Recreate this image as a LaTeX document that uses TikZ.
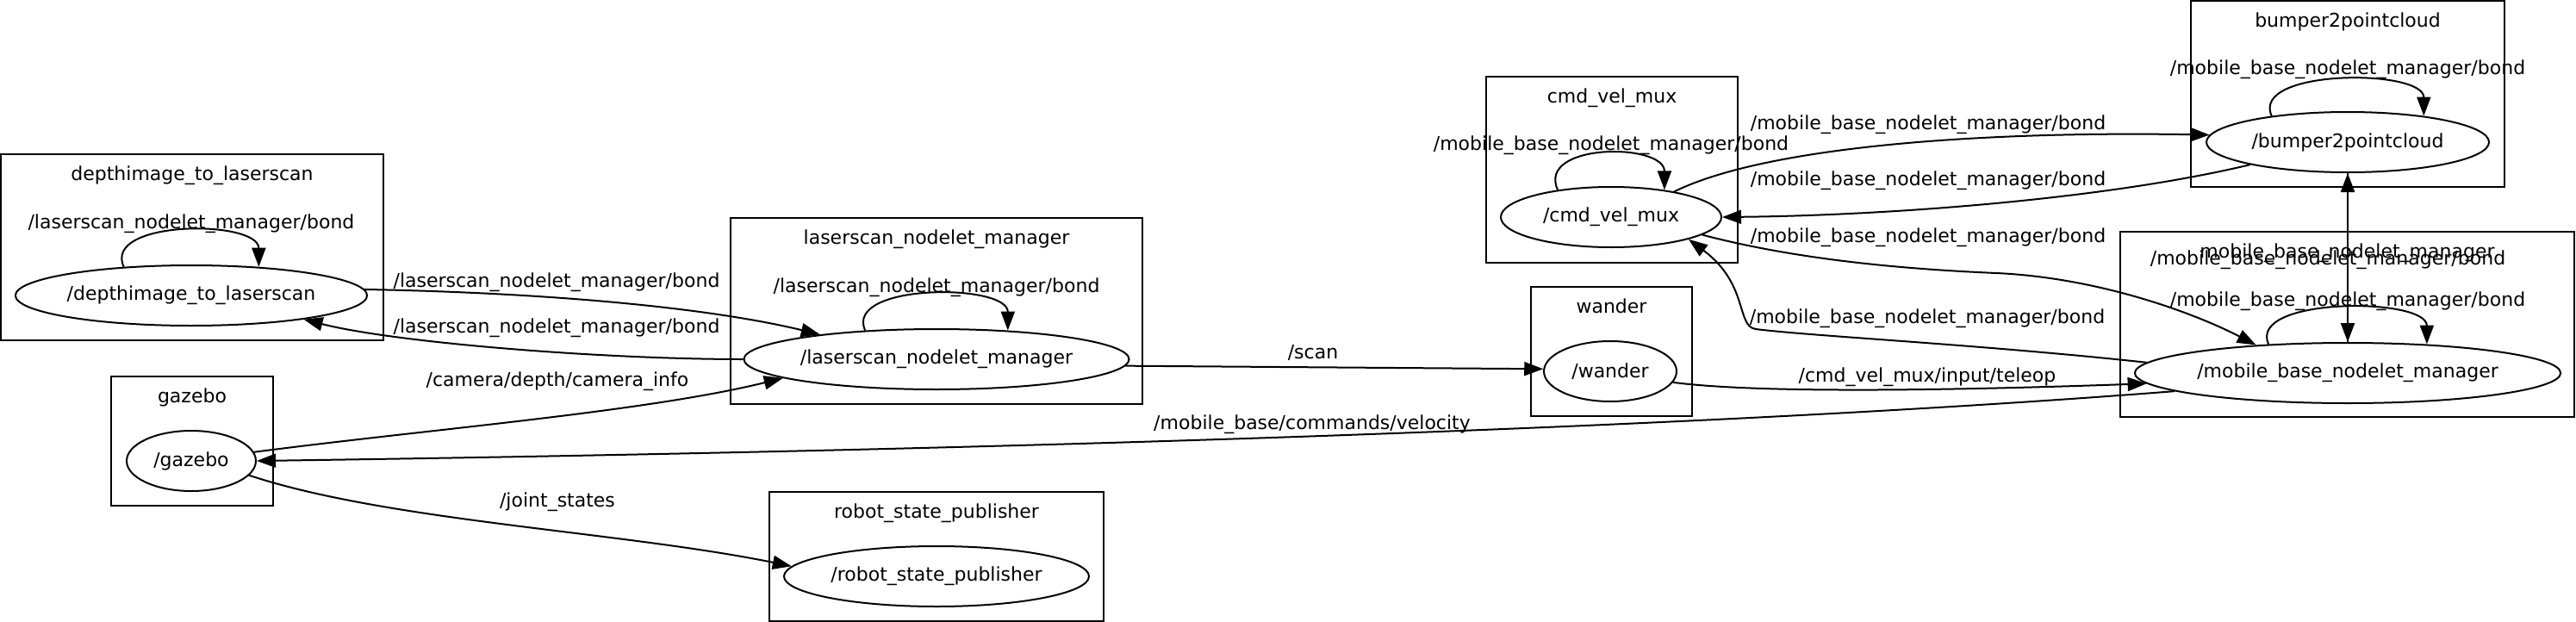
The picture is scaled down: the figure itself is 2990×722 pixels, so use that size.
\documentclass[tikz,border=0pt]{standalone}
\usepackage{fontspec}
\setmainfont{DejaVu Sans}
\usetikzlibrary{arrows.meta,shapes.geometric}
\newcommand\lsbond{/laserscan\_nodelet\_manager/bond}
\newcommand\mbbond{/mobile\_base\_nodelet\_manager/bond}
\tikzset{
  cluster/.style={draw, line width=1.1pt, inner sep=0pt},
  rosnode/.style={draw, ellipse, line width=1pt, inner sep=0pt, minimum height=35pt},
  topic/.style={inner sep=0pt, anchor=base},
  edge/.style={line width=1pt, -{Triangle[length=11pt,width=8pt]}},
}
\begin{document}
\begin{tikzpicture}[x=0.5pt, y=-0.5pt, font=\fontsize{11}{13}\selectfont]
\useasboundingbox (0,0) rectangle (2990,722);
\foreach \id/\cx/\cy/\rx/\bx/\by/\bw/\bh/\ttl in {
  depth/222/343/204/223/287/222/108/depthimage\_to\_laserscan,
  laser/1087/417/221/1087/361/239/108/laserscan\_nodelet\_manager,
  gazebo/222/535/75/223/512/94/75/gazebo,
  rsp/1087/669/177/1087/646/194/75/robot\_state\_publisher,
  wander/1869/431/77/1870.5/408/93.5/75/wander,
  cmd/1870/252/128/1871/197/146/108/cmd\_vel\_mux,
  bumper/2725/165/164/2725/109/182/108/bumper2pointcloud,
  mobile/2725/433/246/2724.5/376.5/263.5/107.5/mobile\_base\_nodelet\_manager}
{
  \node[cluster, minimum width=\bw pt, minimum height=\bh pt] (\id box) at (\bx,\by) {};
  \node[topic] (\id title) at ([yshift=-16pt]\id box.north) {\ttl};
  \node[rosnode, minimum width=\rx pt] (\id) at (\cx,\cy) {/\ttl};
}
\foreach \id/\a/\b/\mgr in {depth/157/23/laserscan, laser/158/22/laserscan,
  cmd/153/27/mobile\_base, bumper/161/19/mobile\_base, mobile/160/20/mobile\_base}
{
  \draw[edge] (\id.\a) .. controls +(-25,-55) and +(0,-55) .. (\id.\b);
  \node[topic] (\id loop) at ([yshift=39pt]\id.center) {/\mgr\_nodelet\_manager/bond};
}
\draw[edge] (depth.2) .. controls (600,339) and (805,353) .. (laser.168);
\node[topic] (t depth laser) at (646,333) {\lsbond};
\draw[edge] (laser.180) .. controls (700,417) and (460,398) .. (depth.-12);
\node[topic] (t laser depth) at (646,386) {\lsbond};
\draw[edge] (gazebo.8) .. controls (500,498) and (750,478) .. (laser.187);
\node[topic] (t camera) at (647,448) {/camera/depth/camera\_info};
\draw[edge] (gazebo.-14) .. controls (450,605) and (721,617) .. (rsp.176);
\node[topic] (t joints) at (647,588) {/joint\_states};
\draw[edge] (laser.-2) -- (wander.178);
\node[topic] (t scan) at (1524,416) {/scan};
\draw[edge] (mobile.186) .. controls (1900,503) and (1000,525) .. (gazebo.0);
\node[topic] (t velocity) at (1523,498) {/mobile\_base/commands/velocity};
\draw[edge] (wander.-10) .. controls (2050,458) and (2300,452) .. (mobile.183);
\node[topic] (t teleop) at (2237,443) {/cmd\_vel\_mux/input/teleop};
\draw[edge] (cmd.22) .. controls (2050,170) and (2300,152) .. (bumper.177);
\node[topic] (t cmd bumper) at (2238,150) {\mbbond};
\draw[edge] (bumper.193) .. controls (2450,230) and (2200,250) .. (cmd.east);
\node[topic] (t bumper cmd) at (2238,215) {\mbbond};
\draw[edge] (cmd.-11) .. controls (2080,300) and (2200,312) .. (2317,317)
  .. controls (2430,322) and (2540,360) .. (mobile.163);
\node[topic] (t cmd mobile) at (2238,281) {\mbbond};
\draw[edge] (mobile.177) .. controls (2300,400) and (2100,390) .. (2038,382)
  .. controls (2015,379) and (2030,330) .. (cmd.-16);
\node[topic] (t mobile cmd) at (2237,375) {\mbbond};
\draw[edge] (bumper.south) -- (mobile.north);
\draw[edge] (mobile.north) -- (bumper.south);
\node[topic] (t bumper mobile) at (2702,307) {\mbbond};
\end{tikzpicture}
\end{document}
